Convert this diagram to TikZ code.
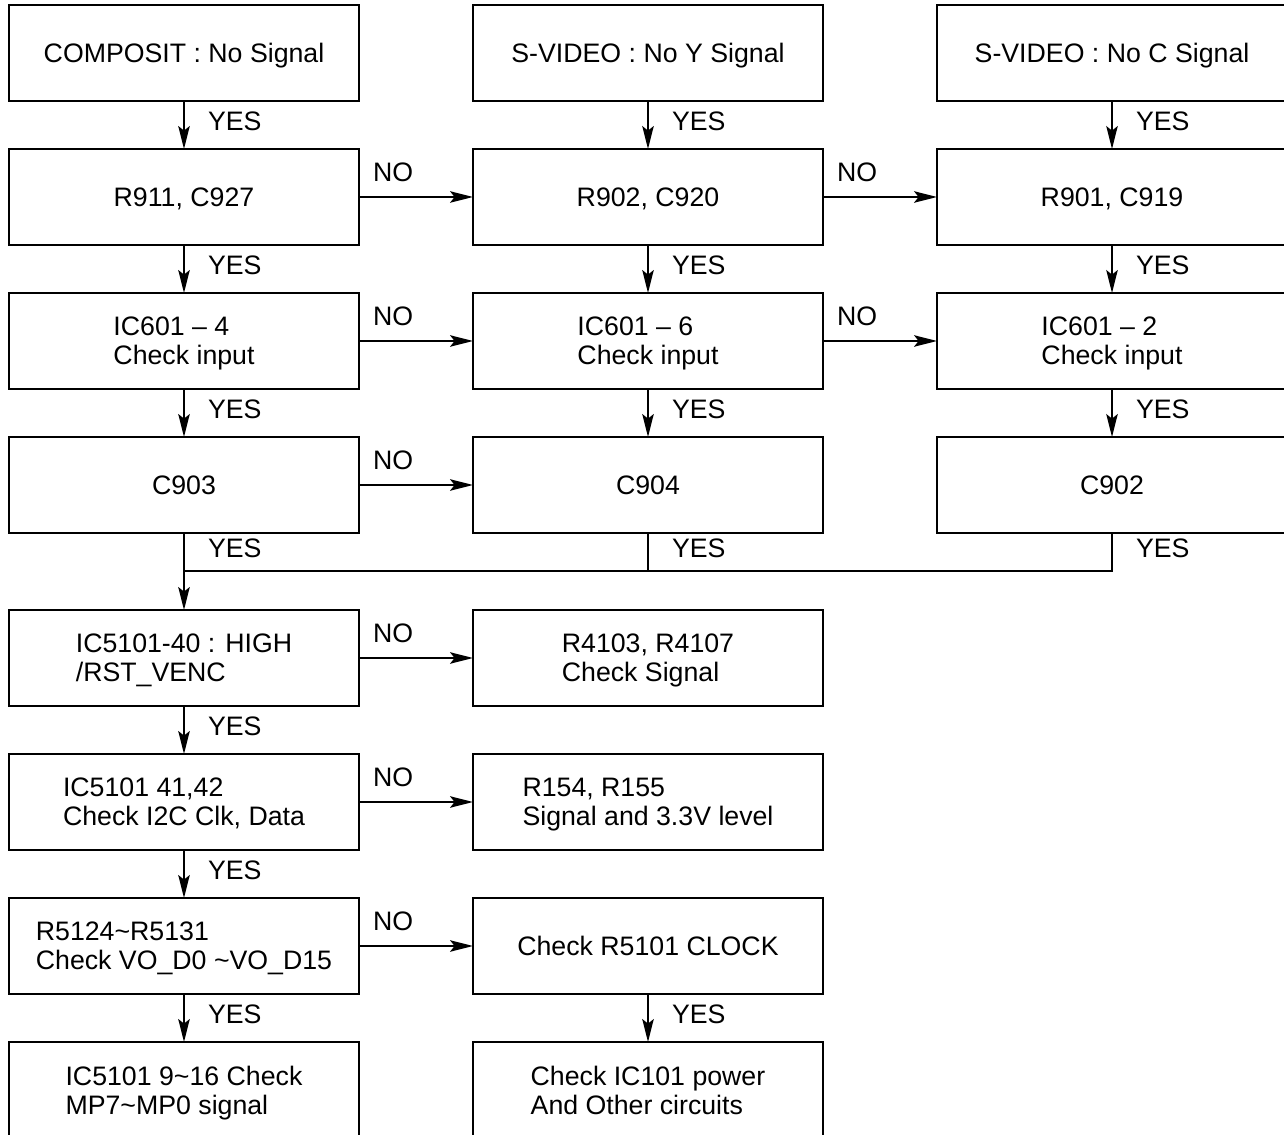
\documentclass[tikz,border=0pt]{standalone}
\usepackage{fontspec}
\setmainfont{Liberation Sans}
\usetikzlibrary{positioning}
\usetikzlibrary{arrows.meta}
\tikzset{
    node distance=2.88cm,
    every node/.append style={
        font=\fontsize{15.2}{16.5}\selectfont,
        inner sep=2pt
    },
    box/.style={
        draw,
        line width=1.2pt,
        minimum width=7cm,
        minimum height=1.92cm,
        align=left,
        text depth=0pt,
        outer sep=0pt
    },
    yes/.style={
        anchor=west,
        xshift=0.39cm,
        yshift=0.07cm
    },
    no/.style={
        anchor=south,
        pos=0.3,
        yshift=0.21cm
    },
    wire/.style={
        draw,
        line width=1.2pt
    },
    >={Stealth[length=13pt, width=6.5pt, inset=2.5pt]},
    every edge/.append style={
        draw,
        ->,
        line width=1.2pt
    }
}

\begin{document}
\begin{tikzpicture}
                \useasboundingbox (0,0) rectangle (25.68,-22.7);

                \node[box] (comp) at (3.68,-1.06) {COMPOSIT : No Signal};
                \node[box, right of=comp, xshift=6.4cm] (svy) {S-VIDEO : No Y Signal};
                \node[box, right of=svy, xshift=6.4cm] (svc) {S-VIDEO : No C Signal};

                \node[box, below of=comp] (r911) {R911, C927};
                \node[box, below of=svy] (r902) {R902, C920};
                \node[box, below of=svc] (r901) {R901, C919};

                \node[box, below of=r911] (ic4) {IC601 \textendash{} 4\\Check input};
                \node[box, below of=r902] (ic6) {IC601 \textendash{} 6\\Check input};
                \node[box, below of=r901] (ic2) {IC601 \textendash{} 2\\Check input};

                \node[box, below of=ic4] (c903) {C903};
                \node[box, below of=ic6] (c904) {C904};
                \node[box, below of=ic2] (c902) {C902};

                \coordinate[below=0.76cm of c903] (merge);

                \node[box, below of=c903, yshift=-0.58cm] (rst) {IC5101-40 : HIGH\\/RST\_VENC};
                \node[box, right of=rst, xshift=6.4cm] (r4103) {R4103, R4107\\Check Signal};
                \node[box, below of=rst] (i2c) {IC5101 41,42\\Check I2C Clk, Data};
                \node[box, right of=i2c, xshift=6.4cm] (r154) {R154, R155\\Signal and 3.3V level};
                \node[box, below of=i2c] (vod) {R5124\textasciitilde R5131\\Check VO\_D0 \textasciitilde VO\_D15};
                \node[box, right of=vod, xshift=6.4cm] (r5101) {Check R5101 CLOCK};
                \node[box, below of=vod] (mp) {IC5101 9\textasciitilde 16 Check\\MP7\textasciitilde MP0 signal};
                \node[box, below of=r5101] (ic101) {Check IC101 power\\And Other circuits};

                \draw (comp) edge node[yes] {YES} (r911);
                \draw (svy) edge node[yes] {YES} (r902);
                \draw (svc) edge node[yes] {YES} (r901);
                \draw (r911) edge node[yes] {YES} (ic4);
                \draw (r902) edge node[yes] {YES} (ic6);
                \draw (r901) edge node[yes] {YES} (ic2);
                \draw (ic4) edge node[yes] {YES} (c903);
                \draw (ic6) edge node[yes] {YES} (c904);
                \draw (ic2) edge node[yes] {YES} (c902);

                \draw (r911) edge node[no] {NO} (r902);
                \draw (r902) edge node[no] {NO} (r901);
                \draw (ic4) edge node[no] {NO} (ic6);
                \draw (ic6) edge node[no] {NO} (ic2);
                \draw (c903) edge node[no] {NO} (c904);

                \draw[wire] (c903) -- node[yes] {YES} (merge);
                \draw[wire] (c904) -- node[yes] {YES} (c904 |- merge) -- (merge);
                \draw[wire] (c902) -- node[yes] {YES} (c902 |- merge) -- (c904 |- merge);
                \draw[wire, ->] (merge) -- (rst);

                \draw (rst) edge node[no] {NO} (r4103);
                \draw (rst) edge node[yes] {YES} (i2c);
                \draw (i2c) edge node[no] {NO} (r154);
                \draw (i2c) edge node[yes] {YES} (vod);
                \draw (vod) edge node[no] {NO} (r5101);
                \draw (vod) edge node[yes] {YES} (mp);
                \draw (r5101) edge node[yes] {YES} (ic101);
            \end{tikzpicture}
\end{document}
